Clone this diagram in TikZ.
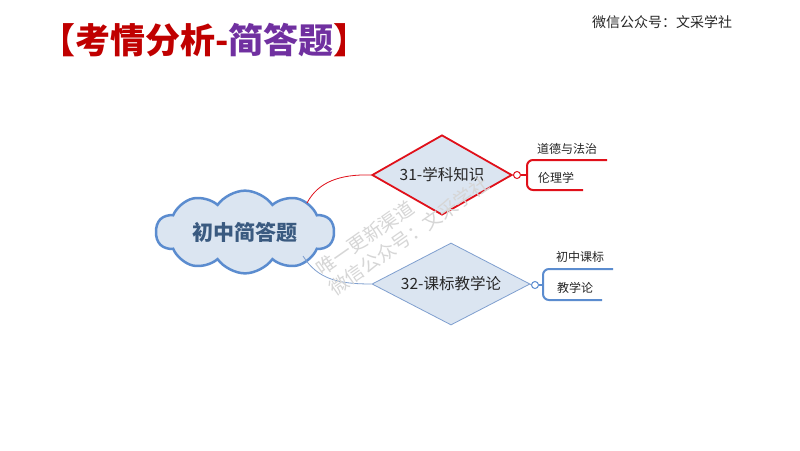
\documentclass[tikz,border=0pt]{standalone}
\usepackage{fontspec}
\setmainfont{Noto Sans CJK SC}
\usetikzlibrary{shapes.geometric,shapes.symbols}
\definecolor{titlered}{HTML}{C00000}
\definecolor{titlepurple}{HTML}{7030A0}
\definecolor{cloudblue}{HTML}{5B8CCF}
\definecolor{lightfill}{HTML}{DBE5F1}
\definecolor{linered}{HTML}{E0101A}
\definecolor{lineblue}{HTML}{7F9FCF}
\definecolor{textblue}{HTML}{3A5A80}
\tikzset{
  diam/.style={diamond, fill=lightfill, shape aspect=1.75, inner sep=0pt, font=\fontsize{15.5}{18}\selectfont, text=black!85},
  leaf/.style={font=\fontsize{12}{14}\selectfont, text=black!85},
  knob/.style={circle, draw, fill=white, inner sep=0pt, minimum size=7pt, line width=1pt},
  wmark/.style={rotate=35, text=black!16, font=\fontsize{19}{22}\selectfont}
}
\begin{document}
\begin{tikzpicture}[x=1pt,y=-1pt]
\fill[white] (0,0) rectangle (800,450);
\useasboundingbox (0,0) rectangle (800,450);
% title
\node[anchor=west, font=\fontsize{35}{38}\selectfont\bfseries, inner sep=0pt] (title) at (40,40)
  {\textcolor{titlered}{【考情分析-}\textcolor{titlepurple}{简答题}\textcolor{titlered}{】}};
\node[font=\fontsize{14}{16}\selectfont, text=black!85] (wx) at (662,22) {微信公众号：文采学社};
% cloud
\node[cloud, cloud puffs=10, cloud puff arc=110, aspect=2.4, draw=cloudblue, line width=2.5pt,
  fill=lightfill, minimum width=178pt, minimum height=70pt, inner sep=0pt,
  font=\fontsize{21}{24}\selectfont\bfseries, text=textblue] (root) at (245,232) {初中简答题};
% diamonds
\node[diam, draw=linered, line width=1.8pt, minimum width=140pt, minimum height=80pt] (d1) at (442,175) {31-学科知识};
\node[diam, draw=lineblue, line width=0.8pt, minimum width=158pt, minimum height=82pt] (d2) at (451,284) {32-课标教学论};
% connectors
\coordinate (r1) at (307,203);
\coordinate (r2) at (303,256);
\draw[linered, line width=0.8pt] (r1) .. controls (318,182) and (340,174) .. (d1.west);
\draw[lineblue, line width=0.8pt] (r2) .. controls (318,280) and (340,284) .. (d2.west);
% knobs
\node[knob, draw=linered] (k1) at (517,175) {};
\node[knob, draw=cloudblue] (k2) at (535,285) {};
\draw[linered, line width=0.8pt] (d1.east) -- (k1.west);
\draw[lineblue, line width=0.8pt] (d2.east) -- (k2.west);
% brackets
\coordinate (b1t) at (607,160);
\coordinate (b1b) at (583,190);
\coordinate (b2t) at (613,269);
\coordinate (b2b) at (602,300);
\draw[linered, line width=2pt] (k1.east) -- (527,175);
\draw[linered, line width=2pt, rounded corners=6pt] (b1t) -- (527,160) -- (527,190) -- (b1b);
\draw[cloudblue, line width=2pt] (k2.east) -- (543,285);
\draw[cloudblue, line width=2pt, rounded corners=6pt] (b2t) -- (543,269) -- (543,300) -- (b2b);
% leaves
\node[leaf] (l1) at (567,149) {道德与法治};
\node[leaf] (l2) at (556,178) {伦理学};
\node[leaf] (l3) at (580,257) {初中课标};
\node[leaf] (l4) at (575,288) {教学论};
% watermark (on top)
\node[wmark] (wm1) at (365,238) {唯一更新渠道};
\node[wmark] (wm2) at (409,236) {微信公众号：文采学社};
\end{tikzpicture}
\end{document}
